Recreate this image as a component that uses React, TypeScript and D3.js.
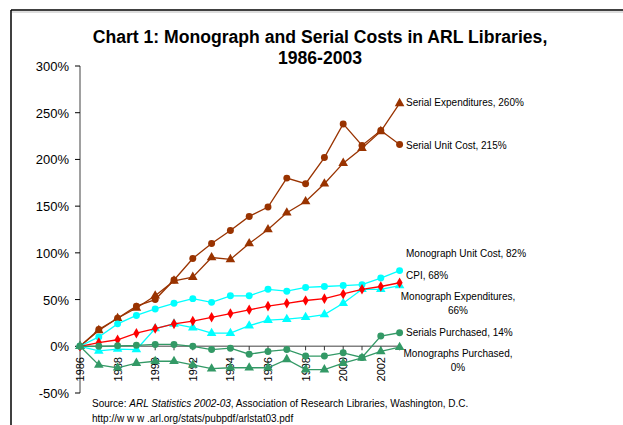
import * as d3 from 'd3';

// Data (percent change since 1986)
const years = d3.range(1986, 2004);
const yearLabels = [1986, 1988, 1990, 1992, 1994, 1996, 1998, 2000, 2002];
const yTicks = [-50, 0, 50, 100, 150, 200, 250, 300];

const serialExpenditures = [0, 17, 30, 41, 54, 70, 74, 95, 93, 110, 125, 143, 155, 174, 196, 212, 230, 260];
const serialUnitCost = [0, 18, 30, 43, 50, 71, 94, 110, 124, 139, 149, 180, 174, 202, 238, 215, 231, 216];
const monographUnitCost = [0, 10, 24, 33, 40, 46, 51, 47, 54, 54, 61, 59, 63, 64, 65, 66, 73, 81];
const cpi = [0, -5, -3, -3.5, 19, 24, 20, 14, 14, 22, 28, 29, 31, 34, 46, 61, 61, 65];
const monographExpenditures = [0, 4, 7, 14, 19, 24, 27, 31, 35, 39, 43, 46, 49, 51, 56, 61, 64, 68];
const serialsPurchased = [0, 0, 0.5, 1, 2, 2, 0, -3.5, -2, -8.5, -5.5, -3.5, -10.5, -10.5, -7, -12, 11, 14.5];
const monographsPurchased = [0, -20, -23, -18, -16, -16, -20, -24, -23, -23, -23, -14, -25, -25, -18, -12.5, -5.5, -1];

const BROWN = '#993300';
const CYAN = '#00FFFF';
const RED = '#FF0000';
const GREEN = '#339966';

const series = [
  { name: 'se', values: serialExpenditures, color: BROWN, shape: d3.symbolTriangle, size: 40 },
  { name: 'suc', values: serialUnitCost, color: BROWN, shape: d3.symbolCircle, size: 38 },
  { name: 'muc', values: monographUnitCost, color: CYAN, shape: d3.symbolCircle, size: 38 },
  { name: 'cpi', values: cpi, color: CYAN, shape: d3.symbolTriangle, size: 40 },
  { name: 'me', values: monographExpenditures, color: RED, shape: d3.symbolDiamond, size: 32 },
  { name: 'sp', values: serialsPurchased, color: GREEN, shape: d3.symbolCircle, size: 38 },
  { name: 'mp', values: monographsPurchased, color: GREEN, shape: d3.symbolTriangle, size: 40 },
];

// label lines: [text lines], x, y, anchor
const labels = [
  { lines: ['Serial Expenditures, 260%'], x: 406, y: 106, anchor: 'start' },
  { lines: ['Serial Unit Cost, 215%'], x: 406, y: 149, anchor: 'start' },
  { lines: ['Monograph Unit Cost, 82%'], x: 406, y: 257, anchor: 'start' },
  { lines: ['CPI, 68%'], x: 406, y: 279, anchor: 'start' },
  { lines: ['Monograph Expenditures,', '66%'], x: 458, y: 300, anchor: 'middle' },
  { lines: ['Serials Purchased, 14%'], x: 406, y: 336, anchor: 'start' },
  { lines: ['Monographs Purchased,', '0%'], x: 458, y: 357, anchor: 'middle' },
];

const FONT = 'Arial, "Liberation Sans", sans-serif';

export default function App() {
  const width = 623;
  const height = 425;

  const x = d3.scaleLinear().domain([1986, 2003]).range([80, 399.6]);
  const y = d3.scaleLinear().domain([-50, 300]).range([393, 66]);

  const line = d3
    .line<number>()
    .x((_, i) => x(years[i]))
    .y((d) => y(d));

  return (
    <svg
      width={width}
      height={height}
      style={{ position: 'absolute', left: 0, top: 0, background: '#fff' }}
      fontFamily={FONT}
    >
      {/* Frame */}
      <line x1={11} y1={10} x2={623} y2={10} stroke="#000" strokeWidth={1.5} />
      <line x1={11} y1={10} x2={11} y2={425} stroke="#000" strokeWidth={1.5} />
      <line x1={12} y1={12} x2={623} y2={12} stroke="#bbb" strokeWidth={1} />

      {/* Title */}
      <text x={320} y={43} textAnchor="middle" fontSize={17.6} fontWeight="bold">
        Chart 1: Monograph and Serial Costs in ARL Libraries,
      </text>
      <text x={320} y={64} textAnchor="middle" fontSize={17.6} fontWeight="bold">
        1986-2003
      </text>

      {/* Y axis */}
      <line x1={80} y1={y(300)} x2={80} y2={y(-50)} stroke="#808080" strokeWidth={1.5} />
      {yTicks.map((t) => (
        <g key={t}>
          <line x1={75} x2={80} y1={y(t)} y2={y(t)} stroke="#000" strokeWidth={1} />
          <text x={69} y={y(t) + 5} textAnchor="end" fontSize={13}>
            {`${t}%`}
          </text>
        </g>
      ))}

      {/* X axis at 0% */}
      <line x1={80} x2={x(2003)} y1={y(0)} y2={y(0)} stroke="#808080" strokeWidth={1.5} />
      {years.map((yr) => (
        <line key={yr} x1={x(yr)} x2={x(yr)} y1={y(0)} y2={y(0) + 4} stroke="#000" strokeWidth={0.8} />
      ))}
      {yearLabels.map((yr) => (
        <text
          key={yr}
          transform={`translate(${x(yr) + 4},357) rotate(-90)`}
          textAnchor="end"
          fontSize={11}
        >
          {yr}
        </text>
      ))}

      {/* Series */}
      {series.map((s) => (
        <g key={s.name}>
          <path d={line(s.values) ?? ''} fill="none" stroke={s.color} strokeWidth={1.3} />
          {s.values.map((v, i) => (
            <path
              key={i}
              d={d3.symbol().type(s.shape).size(s.size)() ?? ''}
              transform={`translate(${x(years[i])},${y(v)})`}
              fill={s.color}
            />
          ))}
        </g>
      ))}

      {/* Series labels */}
      {labels.map((l, i) => (
        <text key={i} x={l.x} y={l.y} textAnchor={l.anchor} fontSize={10}>
          {l.lines.map((t, j) => (
            <tspan key={j} x={l.x} dy={j === 0 ? 0 : 14}>
              {t}
            </tspan>
          ))}
        </text>
      ))}

      {/* Source */}
      <text x={92} y={407} fontSize={10}>
        Source: <tspan fontStyle="italic">ARL Statistics 2002-03</tspan>, Association of Research Libraries, Washington, D.C.
      </text>
      <text x={92} y={422} fontSize={10}>
        http://w w w .arl.org/stats/pubpdf/arlstat03.pdf
      </text>
    </svg>
  );
}
